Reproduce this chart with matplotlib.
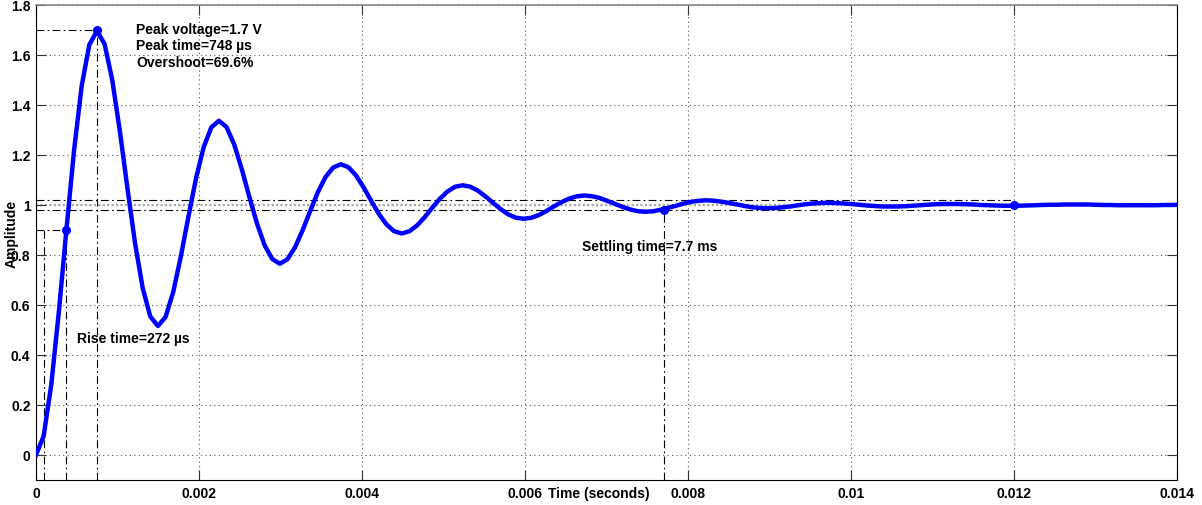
import numpy as np
import matplotlib
matplotlib.use('Agg')
import matplotlib.pyplot as plt

# Step response samples, one every 93.5 us
sample_step = 93.5e-6
amplitude = [
    0.000, 0.075, 0.280, 0.573, 0.904, 1.220, 1.477, 1.641,
    1.696, 1.644, 1.501, 1.297, 1.067, 0.847, 0.668, 0.554,
    0.516, 0.552, 0.651, 0.793, 0.953, 1.107, 1.231, 1.310,
    1.337, 1.312, 1.243, 1.144, 1.032, 0.926, 0.839, 0.784,
    0.765, 0.783, 0.831, 0.900, 0.977, 1.052, 1.112, 1.150,
    1.163, 1.151, 1.118, 1.070, 1.016, 0.964, 0.922, 0.895,
    0.886, 0.895, 0.918, 0.951, 0.989, 1.025, 1.054, 1.073,
    1.079, 1.073, 1.057, 1.034, 1.008, 0.983, 0.962, 0.949,
    0.945, 0.949, 0.960, 0.976, 0.995, 1.012, 1.026, 1.035,
    1.038, 1.035, 1.028, 1.016, 1.004, 0.992, 0.982, 0.975,
    0.973, 0.975, 0.981, 0.989, 0.997, 1.006, 1.013, 1.017,
    1.019, 1.017, 1.013, 1.008, 1.002, 0.996, 0.991, 0.988,
    0.987, 0.988, 0.991, 0.994, 0.999, 1.003, 1.006, 1.008,
    1.009, 1.008, 1.006, 1.004, 1.001, 0.998, 0.996, 0.994,
    0.994, 0.994, 0.995, 0.997, 0.999, 1.001, 1.003, 1.004,
    1.004, 1.004, 1.003, 1.002, 1.000, 0.999, 0.998, 0.997,
    0.997, 0.997, 0.998, 0.999, 1.000, 1.001, 1.001, 1.002,
    1.002, 1.002, 1.002, 1.001, 1.000, 1.000, 0.999, 0.999,
    0.999, 0.999, 0.999, 0.999, 1.000, 1.000, 1.001,
]
time = np.arange(len(amplitude)) * sample_step

# characteristics
final_value = 1.0
steady_time = 0.012
peak_time = 748e-6
peak_value = 1.7
overshoot = 69.6
rise_start = 101e-6
rise_time = 272e-6
rise_end = rise_start + rise_time
settle_time = 7.7e-3
band = 0.02

xticks = [0, 0.002, 0.004, 0.006, 0.008, 0.01, 0.012, 0.014]
xticklabels = ['0', '0.002', '0.004', '0.006', '0.008', '0.01', '0.012', '0.014']
yticks = [0, 0.2, 0.4, 0.6, 0.8, 1.0, 1.2, 1.4, 1.6, 1.8]
yticklabels = ['0', '0.2', '0.4', '0.6', '0.8', '1', '1.2', '1.4', '1.6', '1.8']

plt.rcParams['font.family'] = ['Liberation Sans', 'DejaVu Sans']
plt.rcParams['font.size'] = 10
plt.rcParams['font.weight'] = 'bold'

fig = plt.figure(figsize=(12.02, 5.06), dpi=100)
ax = fig.add_axes([0.02995, 0.04941, 0.94925, 0.93874])
ax.set_xlim(0, 0.014)
ax.set_ylim(-0.1, 1.8)
ymin = -0.1

dd = dict(color='black', lw=0.8, ls=(0, (7, 3, 1.5, 3)), zorder=2)

# grid
for x in xticks[1:-1]:
    ax.plot([x, x], [ymin, 1.8], color='#555555', lw=0.8, ls=(0, (1, 3)), zorder=1)
for y in yticks:
    ax.plot([0, 0.014], [y, y], color='#555555', lw=0.8, ls=(0, (1, 3)), zorder=1)

# steady state line
ax.plot([0, 0.014], [final_value, final_value], color='#aaaaaa', lw=1.6, ls=(0, (1, 1)), zorder=1)

# settling band
ax.plot([0, steady_time], [final_value + band] * 2, **dd)
ax.plot([0, steady_time], [final_value - band] * 2, **dd)
ax.plot([settle_time, settle_time], [ymin, final_value - band], **dd)

# rise time
ax.plot([0, rise_end], [0.9, 0.9], **dd)
ax.plot([rise_start, rise_start], [ymin, 0.9], **dd)
ax.plot([rise_end, rise_end], [ymin, 0.9], **dd)

# peak
ax.plot([0, peak_time], [peak_value, peak_value], **dd)
ax.plot([peak_time, peak_time], [ymin, peak_value], **dd)

ax.plot(time, amplitude, color='#0000ff', lw=3.2, zorder=3, clip_on=True)
ax.plot([rise_end, peak_time, settle_time, steady_time],
        [0.9, peak_value, final_value - band, final_value],
        'o', color='#0000ff', ms=5.5, zorder=4)

ax.text(0.001228, 1.704, 'Peak voltage=%.1f V' % peak_value, va='center')
ax.text(0.001228, 1.638, 'Peak time=%d µs' % round(peak_time * 1e6), va='center')
ax.text(0.001228, 1.572, 'Overshoot=%.1f%%' % overshoot, va='center')
ax.text(0.000503, 0.468, 'Rise time=%d µs' % round(rise_time * 1e6), va='center')
ax.text(0.006705, 0.836, 'Settling time=%.1f ms' % (settle_time * 1e3), va='center')

ax.set_xticks(xticks)
ax.set_xticklabels(xticklabels)
ax.set_yticks(yticks)
ax.set_yticklabels(yticklabels)
ax.tick_params(direction='in', length=7.5, width=0.8, color='#333333',
               top=True, right=True, labelsize=10, pad=4)
for side in ['left', 'bottom', 'right']:
    ax.spines[side].set_linewidth(0.8)
ax.spines['top'].set_color('#888888')
ax.spines['top'].set_linewidth(1.2)

fig.text(12 / 1202, 1 - 234 / 506, 'Amplitude', rotation=90, ha='center', va='center')
fig.text(599 / 1202, 1 - 494 / 506, 'Time (seconds)', ha='center', va='center')

fig.savefig('out.png', dpi=100)
